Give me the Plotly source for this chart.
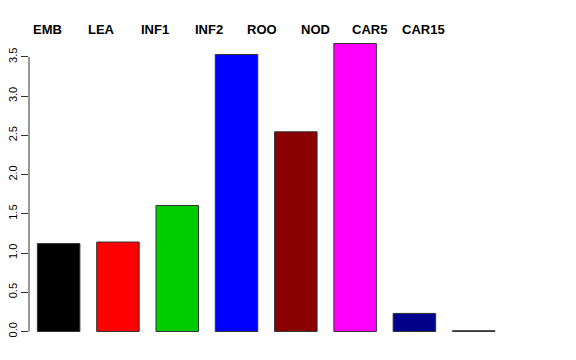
import plotly.graph_objects as go

categories = ["EMB", "LEA", "INF1", "INF2", "ROO", "NOD", "CAR5", "CAR15"]
values = [1.12, 1.14, 1.605, 3.53, 2.545, 3.67, 0.23, 0.01]
colors = ["#000000", "#FF0000", "#00CD00", "#0000FF", "#8B0000", "#FF00FF", "#00008B", "#FFFFFF"]
tick_vals = [0.0, 0.5, 1.0, 1.5, 2.0, 2.5, 3.0, 3.5]

fig = go.Figure()
fig.add_trace(go.Bar(
    x=list(range(len(categories))), y=values,
    marker=dict(color=colors, line=dict(color="#333333", width=1)),
    showlegend=False, hoverinfo="skip",
))

# top labels (spaced slightly narrower than the bars, as in the original)
label_start = -0.185
label_step = 0.905
annotations = []
for i, c in enumerate(categories):
    annotations.append(dict(
        x=label_start + label_step * i, xref="x",
        y=1.0 + (32 - 29) / 311.0, yref="paper",
        text=c, showarrow=False,
        font=dict(family="Liberation Sans", size=13, color="black", weight="bold"),
        xanchor="center", yanchor="middle",
    ))

fig.update_layout(
    width=576, height=360,
    margin=dict(l=29, r=43, t=32, b=17, autoexpand=False),
    plot_bgcolor="white", paper_bgcolor="white",
    bargap=0.283,
    annotations=annotations,
    xaxis=dict(range=[-0.5, 8.0], showticklabels=False, showgrid=False,
               zeroline=False, showline=False, ticks="", automargin=False),
    yaxis=dict(range=[-0.147, 3.817], tickvals=tick_vals, tickformat=".1f",
               tickangle=-90, ticks="outside", ticklen=7, tickcolor="#333333",
               showgrid=False, zeroline=False, showline=False, automargin=False,
               tickfont=dict(family="Liberation Sans", size=11, color="black")),
    shapes=[dict(type="line", xref="paper", yref="y", x0=0, x1=0,
                 y0=tick_vals[0], y1=tick_vals[-1],
                 line=dict(color="#333333", width=1))],
)

fig.write_html("out.html", config={"displayModeBar": False},
               post_script="document.body.style.margin='0';")
